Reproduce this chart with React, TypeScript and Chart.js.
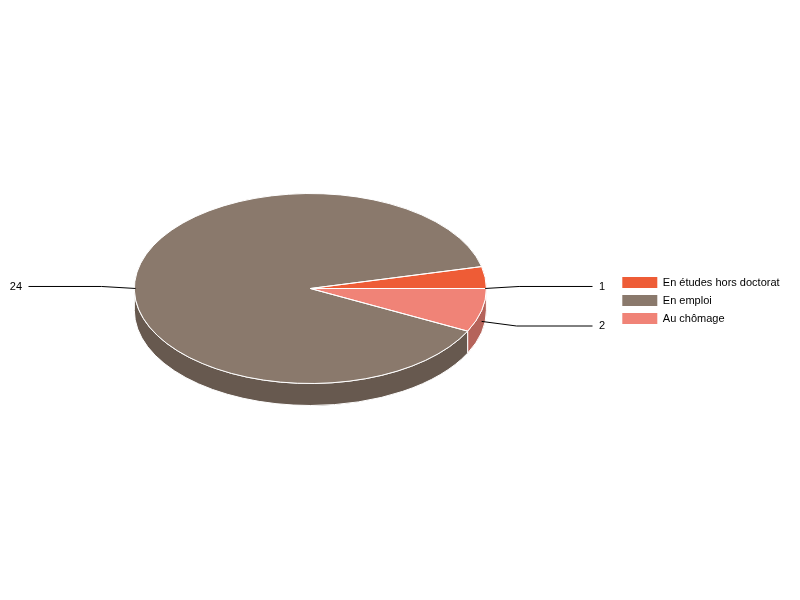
import React, { useEffect, useRef } from "react";
import { Chart, registerables } from "chart.js";

Chart.register(...registerables);

const categories = ["En études hors doctorat", "En emploi", "Au chômage"];
const values = [1, 24, 2];
const topColors = ["#ee5c36", "#8a796c", "#f08377"];
const wallColors = ["#b4462a", "#67594f", "#b5635a"];
// leader geometry, per slice, in legend order
const kneeDx = [34, -34, 35];
const kneeDy = [-2, -2, 4.6];
const lineEndX = [592.5, 28.5, 592.5];
const labelX = [599, 22, 599];

const FONT = "'Liberation Sans', Arial, sans-serif";
const SQUASH = 95 / 176;
const DEPTH = 22;
const TAU = Math.PI * 2;

function pieArcs(chart: any) {
  return chart.getDatasetMeta(0).data.map((el: any) => el.getProps(["x", "y", "startAngle", "endAngle", "outerRadius"], true));
}

const pie3d = {
  id: "pie3d",
  afterLayout(chart: any) {
    const legend = chart.legend;
    const dx = 615.3 - legend.left;
    legend.left += dx;
    legend.right += dx;
    legend.top += 12;
    legend.bottom += 12;
  },
  beforeDatasetsDraw(chart: any) {
    const ctx = chart.ctx;
    const arcs = pieArcs(chart);
    const { x, y, outerRadius: r } = arcs[0];
    const ry = r * SQUASH;
    ctx.save();
    arcs.forEach((a: any, i: number) => {
      for (const off of [0, TAU]) {
        const s = Math.max(a.startAngle, off);
        const e = Math.min(a.endAngle, off + Math.PI);
        if (e <= s) continue;
        ctx.beginPath();
        ctx.ellipse(x, y, r, ry, 0, s, e);
        ctx.ellipse(x, y + DEPTH, r, ry, 0, e, s, true);
        ctx.closePath();
        ctx.fillStyle = wallColors[categories.length - 1 - i];
        ctx.fill();
        // white edge at the slice boundaries on the front wall
        ctx.strokeStyle = "#ffffff";
        ctx.lineWidth = 1;
        ctx.stroke();
      }
    });
    ctx.restore();
    ctx.save();
    ctx.translate(x, y);
    ctx.scale(1, SQUASH);
    ctx.translate(-x, -y);
  },
  afterDatasetsDraw(chart: any) {
    const ctx = chart.ctx;
    ctx.restore();
    const arcs = pieArcs(chart);
    const { x, y, outerRadius: r } = arcs[0];
    const ry = r * SQUASH;
    ctx.save();
    ctx.strokeStyle = "#ffffff";
    ctx.lineWidth = 1;
    arcs.forEach((a: any) => {
      ctx.beginPath();
      ctx.moveTo(x, y);
      ctx.ellipse(x, y, r, ry, 0, a.startAngle, a.endAngle);
      ctx.closePath();
      ctx.stroke();
    });
    ctx.font = `11px ${FONT}`;
    ctx.fillStyle = "#000000";
    ctx.textBaseline = "middle";
    arcs.forEach((a: any, i: number) => {
      const k = categories.length - 1 - i;
      const mid = (a.startAngle + a.endAngle) / 2;
      const sx = x + Math.cos(mid) * r;
      const sy = y + Math.sin(mid) * ry + DEPTH / 2;
      const ky = sy + kneeDy[k];
      ctx.beginPath();
      ctx.moveTo(sx, sy);
      ctx.lineTo(sx + kneeDx[k], ky);
      ctx.lineTo(lineEndX[k], ky);
      ctx.strokeStyle = "#000000";
      ctx.lineWidth = 1;
      ctx.stroke();
      ctx.textAlign = kneeDx[k] > 0 ? "left" : "right";
      ctx.fillText(String(chart.data.datasets[0].data[i]), labelX[k], ky);
    });
    ctx.restore();
  },
};

export default function App() {
  const ref = useRef<HTMLCanvasElement>(null);
  useEffect(() => {
    const chart = new Chart(ref.current!, {
      type: "pie",
      data: {
        labels: [...categories].reverse(),
        datasets: [
          {
            data: [...values].reverse(),
            backgroundColor: [...topColors].reverse(),
            borderWidth: 0,
          },
        ],
      },
      options: {
        animation: false,
        responsive: false,
        devicePixelRatio: 1,
        rotation: 90,
        layout: { padding: { top: 112.5, bottom: 135.5, left: 11, right: 16 } },
        plugins: {
          tooltip: { enabled: false },
          legend: {
            position: "right",
            reverse: true,
            labels: {
              boxWidth: 35,
              boxHeight: 11,
              padding: 7,
              color: "#000000",
              font: { family: FONT, size: 11 },
              generateLabels: (c: any) =>
                (Chart as any).overrides.doughnut.plugins.legend.labels
                  .generateLabels(c)
                  .map((it: any) => ({ ...it, lineWidth: 0 })),
            },
          },
        },
      },
      plugins: [pie3d],
    } as any);
    return () => chart.destroy();
  }, []);
  return (
    <canvas
      ref={ref}
      width={800}
      height={600}
      style={{ position: "absolute", left: 0, top: 0, width: 800, height: 600 }}
    />
  );
}
